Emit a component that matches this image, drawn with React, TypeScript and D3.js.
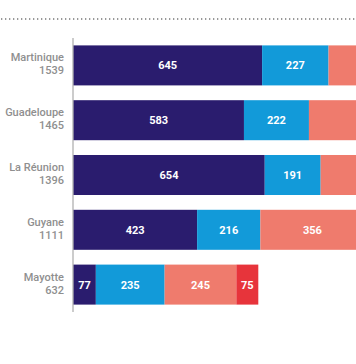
import React from "react";
import * as d3 from "d3";

const regions = ["Martinique", "Guadeloupe", "La Réunion", "Guyane", "Mayotte"];
const totals = [1539, 1465, 1396, 1111, 632];
const seriesA = [645, 583, 654, 423, 77];
const seriesB = [227, 222, 191, 216, 235];
const seriesC = [460, 470, 400, 356, 245];
const seriesD = [207, 190, 151, 116, 75];
const colors = ["#2a1c6e", "#129ad9", "#ef7b6d", "#e7343b"];

const W = 356;
const H = 364;

export default function App() {
  const x = d3.scaleLinear().domain([0, 632]).range([73.3, 258.3]);
  const y = d3
    .scaleBand<string>()
    .domain(regions)
    .range([38, 312])
    .paddingInner(0.27)
    .paddingOuter(0.135);

  const series = [seriesA, seriesB, seriesC, seriesD];
  const stackData = regions.map((r, i) => {
    const o: any = { region: r };
    series.forEach((s, k) => (o["s" + k] = s[i]));
    return o;
  });
  const stack = d3.stack<any>().keys(["s0", "s1", "s2", "s3"]);
  const layers = stack(stackData);

  return (
    <svg
      width={W}
      height={H}
      style={{ position: "absolute", left: 0, top: 0, background: "#fff" }}
      fontFamily="Roboto, 'Noto Sans', sans-serif"
    >
      <defs>
        <clipPath id="clip">
          <rect x={0} y={0} width={W} height={H} />
        </clipPath>
      </defs>
      <line x1={1} x2={W} y1={19} y2={19} stroke="#777" strokeWidth={1.3} strokeDasharray="1.3 2.7" />
      <g clipPath="url(#clip)">
        {layers.map((layer, k) =>
          layer.map((d, i) => {
            const x0 = x(d[0]);
            const x1 = x(d[1]);
            const yy = y(regions[i])!;
            const bw = y.bandwidth();
            const cx = (x0 + x1) / 2;
            return (
              <g key={k + "-" + i}>
                <rect x={x0} y={yy} width={x1 - x0} height={bw} fill={colors[k]} />
                {cx < W - 20 && (
                  <text
                    x={cx}
                    y={yy + bw / 2 + 4}
                    textAnchor="middle"
                    fill="#fff"
                    fontSize={11}
                    fontWeight={700}
                  >
                    {d[1] - d[0]}
                  </text>
                )}
              </g>
            );
          })
        )}
      </g>
      <line x1={73} x2={73} y1={38} y2={312} stroke="#999" strokeWidth={1} />
      {regions.map((r, i) => {
        const cy = y(r)! + y.bandwidth() / 2;
        return (
          <g key={r}>
            <text x={64} y={cy - 4} textAnchor="end" fill="#8f8f8f" fontSize={11} fontWeight={500}>
              {r}
            </text>
            <text x={64} y={cy + 9} textAnchor="end" fill="#8f8f8f" fontSize={11} fontWeight={500}>
              {totals[i]}
            </text>
          </g>
        );
      })}
    </svg>
  );
}
